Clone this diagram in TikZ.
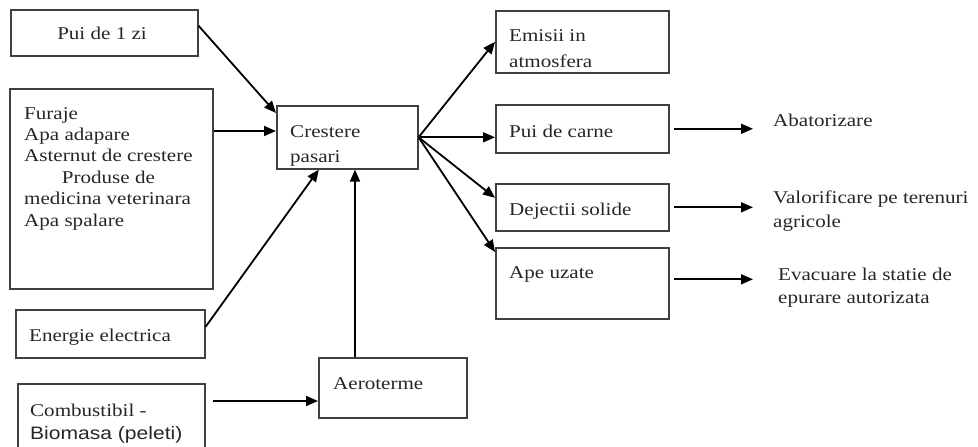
\documentclass[tikz,border=0pt]{standalone}
\usepackage{fontspec}
\setmainfont{Liberation Serif}[FakeStretch=1.17]
\newfontfamily\biofont{Liberation Sans}[FakeStretch=1.17]
\usetikzlibrary{arrows.meta}
\newcommand{\cellrows}[1]{\begin{tabular}[t]{@{}l@{}}#1\end{tabular}}

\begin{document}
\begin{tikzpicture}[x=1pt,y=-1pt,
    font=\fontsize{18}{21.4}\selectfont,
    box/.style={draw=black!75, line width=1.6pt, inner sep=0pt, anchor=north west},
    txt/.style={anchor=base west, inner sep=0pt, text=black!85},
    arr/.style={line width=1.8pt, -{Triangle[length=12pt,width=10pt]}}]
  \useasboundingbox (0,0) rectangle (978,447);

  % Intrari
  \node[box, minimum width=187pt, minimum height=46pt]  (pui1)     at (10,9)   {};
  \node[box, minimum width=203pt, minimum height=200pt] (furaje)   at (9,88)   {};
  \node[box, minimum width=189pt, minimum height=48pt]  (energie)  at (15,309) {};
  \node[box, minimum width=187pt, minimum height=77pt]  (combust)  at (17,383) {};
  \node[box, minimum width=148pt, minimum height=60pt]  (aero)     at (318,357) {};
  \node[box, minimum width=141pt, minimum height=63pt]  (crestere) at (276,105) {};

  % Iesiri
  \foreach \nm/\top/\h in {emisii/10/62, carne/104/48, dejectii/183/47, ape/247/71} {
    \node[box, minimum width=173pt, minimum height=\h pt] (\nm) at (495,\top) {};
  }

  \node[txt, anchor=base] (t-pui1) at (102,39) {Pui de 1 zi};
  \node[txt] (t-furaje) at (24,119) {\cellrows{Furaje\\Apa adapare\\Asternut de crestere\\
      \multicolumn{1}{@{}c@{}}{Produse de}\\medicina veterinara\\Apa spalare}};
  \node[txt] (t-energie) at (29,341) {Energie electrica};
  \node[txt] (t-combust) at (30,416) {\cellrows{Combustibil -\\[1.6pt]{\biofont Biomasa (peleti)}}};
  \node[txt] (t-aero) at (333,389) {Aeroterme};
  \node[txt] (t-crestere) at (290,137) {\cellrows{Crestere\\[3.6pt]pasari}};
  \node[txt] (t-emisii) at (509,41) {\cellrows{Emisii in\\[4.6pt]atmosfera}};
  \node[txt] (t-carne) at (509,137) {Pui de carne};
  \node[txt] (t-dejectii) at (509,215) {Dejectii solide};
  \node[txt] (t-ape) at (509,278) {Ape uzate};

  \node[txt] (abat)  at (773,126) {Abatorizare};
  \node[txt] (valor) at (773,203) {\cellrows{Valorificare pe terenuri\\[2.6pt]agricole}};
  \node[txt] (evac)  at (778,280) {\cellrows{Evacuare la statie de\\[1.6pt]epurare autorizata}};

  % Fluxuri spre crestere
  \draw[arr] ([yshift=7pt]pui1.east) -- ([yshift=-8pt]crestere.north west);
  \draw[arr] (furaje.east |- 0,131) -- (crestere.west |- 0,131);
  \draw[arr] ([yshift=7pt]energie.east) -- ([xshift=-28.5pt]crestere.south);
  \draw[arr] (aero.north -| 355,0) -- (crestere.south -| 355,0);
  \coordinate (combout) at (213,401);
  \draw[arr] (combout) -- (combout -| aero.west);

  % Fluxuri din crestere
  \draw[arr] (crestere.east) -- (emisii.west);
  \draw[arr] (crestere.east) -- (carne.west |- crestere.east);
  \draw[arr] (crestere.east) -- ([yshift=9.5pt]dejectii.west);
  \draw[arr] (crestere.east) -- ([yshift=-5pt]ape.north west);

  \draw[arr, shorten <=4pt, shorten >=20pt] (carne.east) -- (carne.east -| abat.west);
  \draw[arr, shorten <=4pt, shorten >=20pt] (dejectii.east) -- (dejectii.east -| valor.west);
  \coordinate (apeout) at ([yshift=4pt]ape.east);
  \draw[arr, shorten <=4pt, shorten >=25pt] (apeout) -- (apeout -| evac.west);
\end{tikzpicture}
\end{document}
